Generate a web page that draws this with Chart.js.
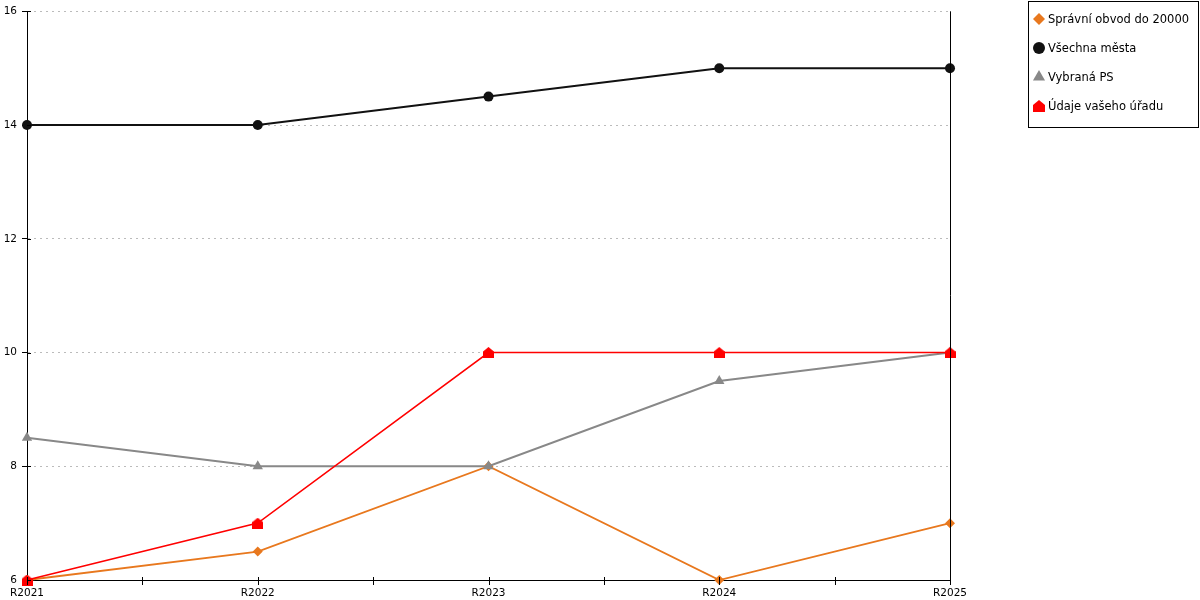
<!DOCTYPE html>
<html>
<head>
<meta charset="utf-8">
<title>Vývoj ukazatele</title>
<script src="https://cdn.jsdelivr.net/npm/chart.js@4"></script>
<style>
  html, body { margin: 0; padding: 0; background: #fff; }
  #wrap { position: relative; width: 1200px; height: 600px; }
</style>
</head>
<body>
<div id="wrap"><canvas id="chart"></canvas></div>
<script>
// Data
const years = ['R2021', 'R2022', 'R2023', 'R2024', 'R2025'];
const spravniObvod = [6, 6.5, 8, 6, 7];
const vsechnaMesta = [14, 14, 14.5, 15, 15];
const vybranaPS = [8.5, 8, 8, 9.5, 10];
const vasUrad = [6, 7, 10, 10, 10];
const seriesNames = ['Správní obvod do 20000', 'Všechna města', 'Vybraná PS', 'Údaje vašeho úřadu'];
const yTicks = [6, 8, 10, 12, 14, 16];

const FONT = '"DejaVu Sans", Verdana, sans-serif';

// house shaped marker for the office series
function makeHouse(color, size) {
  const c = document.createElement('canvas');
  c.width = size;
  c.height = size;
  const g = c.getContext('2d');
  const roof = size * 0.42;
  g.fillStyle = color;
  g.beginPath();
  g.moveTo(size / 2, 0);
  g.lineTo(size, roof);
  g.lineTo(size, size);
  g.lineTo(0, size);
  g.lineTo(0, roof);
  g.closePath();
  g.fill();
  return c;
}
const houseMarker = makeHouse('#ff0000', 11);
const houseLegend = makeHouse('#ff0000', 12);

const styles = [
  { color: '#e8781e', pointStyle: 'rectRot', radius: 5, legendRadius: 6, width: 1.8, order: 3 },
  { color: '#111111', pointStyle: 'circle', radius: 5, legendRadius: 6, width: 2, order: 2 },
  { color: '#888888', pointStyle: 'triangle', radius: 6, legendRadius: 7, width: 2, order: 1 },
  { color: '#ff0000', pointStyle: houseMarker, legendStyle: houseLegend, radius: 5.5, legendRadius: 6, width: 1.6, order: 0 }
];
const values = [spravniObvod, vsechnaMesta, vybranaPS, vasUrad];

const datasets = values.map((vals, i) => ({
  label: seriesNames[i],
  data: vals,
  borderColor: styles[i].color,
  backgroundColor: styles[i].color,
  borderWidth: styles[i].width,
  pointStyle: styles[i].pointStyle,
  pointRadius: styles[i].radius,
  pointBorderWidth: 0,
  pointBackgroundColor: styles[i].color,
  tension: 0,
  order: styles[i].order,
  clip: 8
}));

// axis tick marks crossing the axes, right frame line and boxed legend
const extras = {
  id: 'extras',
  afterDatasetsDraw(chart) {
    const ctx = chart.ctx;
    const area = chart.chartArea;
    const x = chart.scales.x;
    const y = chart.scales.y;
    ctx.save();
    ctx.strokeStyle = '#000';
    ctx.lineWidth = 1;
    ctx.beginPath();
    ctx.moveTo(Math.round(area.right) + 0.5, area.top);
    ctx.lineTo(Math.round(area.right) + 0.5, area.bottom);
    for (let i = 0; i < years.length; i++) {
      const steps = i < years.length - 1 ? [i, i + 0.5] : [i];
      steps.forEach(v => {
        const px = Math.round(x.getPixelForValue(v)) + 0.5;
        ctx.moveTo(px, area.bottom - 3);
        ctx.lineTo(px, area.bottom + 5);
      });
    }
    yTicks.forEach(v => {
      const py = Math.round(y.getPixelForValue(v)) + 0.5;
      ctx.moveTo(area.left, py);
      ctx.lineTo(area.left + 4, py);
    });
    ctx.stroke();
    ctx.restore();
  },
  afterDraw(chart) {
    const ctx = chart.ctx;
    ctx.save();
    ctx.strokeStyle = '#000';
    ctx.lineWidth = 1;
    ctx.strokeRect(1028.5, 1.5, 170, 126);
    ctx.font = '11.5px ' + FONT;
    ctx.textBaseline = 'middle';
    seriesNames.forEach((name, i) => {
      const ly = 19 + i * 29;
      const s = styles[i];
      ctx.fillStyle = s.color;
      ctx.strokeStyle = s.color;
      Chart.helpers.drawPoint(ctx, {
        pointStyle: s.legendStyle || s.pointStyle,
        radius: s.legendRadius,
        rotation: 0,
        borderWidth: 0
      }, 1039, ly);
      ctx.fillStyle = '#000';
      ctx.fillText(name, 1048, ly + 1);
    });
    ctx.restore();
  }
};

new Chart(document.getElementById('chart'), {
  type: 'line',
  data: {
    labels: years,
    datasets: datasets
  },
  options: {
    responsive: true,
    maintainAspectRatio: false,
    animation: false,
    layout: {
      padding: { top: 10, right: 250, left: 0, bottom: 0 }
    },
    plugins: {
      legend: { display: false },
      tooltip: { enabled: false }
    },
    scales: {
      x: {
        offset: false,
        grid: { display: false, drawTicks: false, tickLength: 0 },
        border: { display: true, color: '#000', width: 1 },
        ticks: {
          color: '#000',
          font: { family: FONT, size: 10.5 },
          padding: 7,
          maxRotation: 0,
          autoSkip: false
        },
        afterFit(scale) { scale.height = 20; }
      },
      y: {
        min: yTicks[0],
        max: yTicks[yTicks.length - 1],
        afterBuildTicks(scale) {
          scale.ticks = yTicks.map(v => ({ value: v }));
        },
        grid: {
          color: '#bbbbbb',
          lineWidth: 1,
          tickColor: '#000',
          tickLength: 5,
          tickBorderDash: []
        },
        border: { display: true, color: '#000', width: 1, dash: [2, 4] },
        ticks: {
          color: '#000',
          font: { family: FONT, size: 10.5 },
          padding: 5
        },
        afterFit(scale) { scale.width = 27; }
      }
    }
  },
  plugins: [extras]
});
</script>
</body>
</html>
